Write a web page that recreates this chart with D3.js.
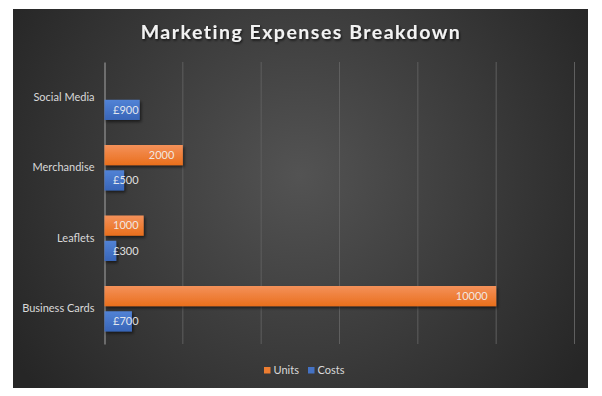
<!DOCTYPE html>
<html><head><meta charset="utf-8">
<script src="https://cdn.jsdelivr.net/npm/d3@7"></script>
<style>html,body{margin:0;padding:0;background:#fff;}svg{display:block;}</style>
</head><body>
<script>
const categories = ["Social Media", "Merchandise", "Leaflets", "Business Cards"];
const seriesNames = ["Units", "Costs"];
const units = [null, 2000, 1000, 10000];
const costs = [900, 500, 300, 700];
const costLabels = ["£900", "£500", "£300", "£700"];
const xTicks = [0, 2000, 4000, 6000, 8000, 10000, 12000];
const title = "Marketing Expenses Breakdown";

const W = 602, H = 396;
const svg = d3.select("body").append("svg").attr("width", W).attr("height", H);
const defs = svg.append("defs");

const bg = defs.append("radialGradient").attr("id","bg").attr("gradientUnits","userSpaceOnUse")
  .attr("cx",300).attr("cy",175).attr("r",340);
bg.append("stop").attr("offset","0%").attr("stop-color","#535353");
bg.append("stop").attr("offset","100%").attr("stop-color","#262626");

function barGrad(id, top, bottom){
  const g = defs.append("linearGradient").attr("id",id).attr("x1",0).attr("y1",0).attr("x2",0).attr("y2",1);
  g.append("stop").attr("offset","0%").attr("stop-color",top);
  g.append("stop").attr("offset","100%").attr("stop-color",bottom);
}
barGrad("gUnits","#f4915a","#e96f1c");
barGrad("gCosts","#5283d6","#3865b8");

const sh = defs.append("filter").attr("id","shadow").attr("x","-10%").attr("y","-30%").attr("width","130%").attr("height","190%");
sh.append("feDropShadow").attr("dx",1.5).attr("dy",2).attr("stdDeviation",1.6).attr("flood-color","#000").attr("flood-opacity",0.55);
const tsh = defs.append("filter").attr("id","tshadow").attr("x","-10%").attr("y","-30%").attr("width","120%").attr("height","170%");
tsh.append("feDropShadow").attr("dx",1).attr("dy",1.5).attr("stdDeviation",1.2).attr("flood-color","#000").attr("flood-opacity",0.7);

svg.append("rect").attr("x",13).attr("y",9).attr("width",575).attr("height",379).attr("fill","url(#bg)");

const font = "Lato, 'Open Sans', sans-serif";

svg.append("text").attr("x",301).attr("y",39).attr("text-anchor","middle")
  .attr("font-family",font).attr("font-weight","bold").attr("font-size",19.5)
  .attr("letter-spacing",1.5)
  .attr("fill","#f2f2f2").attr("filter","url(#tshadow)").text(title);

const x = d3.scaleLinear().domain([0, 12000]).range([104, 574]);
const y = d3.scaleBand().domain(categories).range([62, 344]);
const inner = d3.scaleBand().domain(seriesNames).range([-22.75, 22.75]).paddingInner(0.2);

// gridlines
svg.append("g").selectAll("line").data(xTicks.slice(1)).join("line")
  .attr("x1",d=>x(d)+0.5).attr("x2",d=>x(d)+0.5).attr("y1",62).attr("y2",344)
  .attr("stroke","#5f5f5f").attr("stroke-width",1);

// category axis
const yAxis = svg.append("g").attr("transform","translate(104.5,0)")
  .call(d3.axisLeft(y).tickSize(0).tickPadding(10));
yAxis.select(".domain").attr("stroke","#a6a6a6");
yAxis.selectAll("text").attr("font-family",font).attr("font-size",11).attr("fill","#d9d9d9");

const data = [];
categories.forEach((c,i)=>{
  if (units[i] != null) data.push({cat:c, s:"Units", v:units[i], label:String(units[i]), fill:"url(#gUnits)"});
  data.push({cat:c, s:"Costs", v:costs[i], label:costLabels[i], fill:"url(#gCosts)"});
});

const yc = c => y(c) + y.bandwidth()/2;

svg.append("g").selectAll("rect").data(data).join("rect")
  .attr("x", x(0)+0.5).attr("y", d=>yc(d.cat)+inner(d.s))
  .attr("width", d=>x(d.v)-x(0)).attr("height", inner.bandwidth())
  .attr("fill", d=>d.fill).attr("filter","url(#shadow)");

const labels = svg.append("g").selectAll("text").data(data).join("text")
  .attr("y", d=>yc(d.cat)+inner(d.s)+inner.bandwidth()/2)
  .attr("dy","0.35em").attr("text-anchor","end")
  .attr("font-family",font).attr("font-size",11).attr("fill","#f2f2f2").attr("fill-opacity",0.92)
  .text(d=>d.label);
labels.attr("x", function(d){
  const w = this.getComputedTextLength();
  return Math.max(x(d.v) - 8, x(0) + 9 + w);
});

// legend
const lg = svg.append("g");
const legendItems = [{n:"Units", c:"#ed7d31", x:264}, {n:"Costs", c:"#4472c4", x:308}];
lg.selectAll("rect").data(legendItems).join("rect")
  .attr("x",d=>d.x).attr("y",367).attr("width",6.5).attr("height",6.5).attr("fill",d=>d.c);
lg.selectAll("text").data(legendItems).join("text")
  .attr("x",d=>d.x+9.5).attr("y",370.5).attr("dy","0.35em")
  .attr("font-family",font).attr("font-size",11).attr("fill","#d9d9d9").text(d=>d.n);
</script>
</body></html>
